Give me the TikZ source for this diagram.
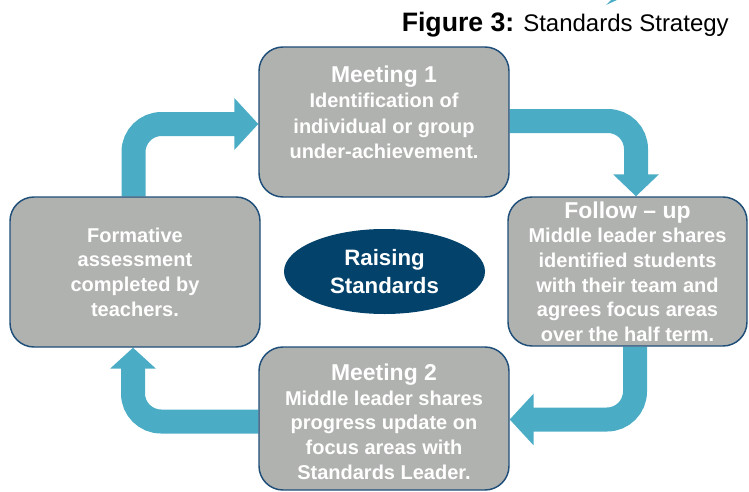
\documentclass[tikz,border=0pt]{standalone}
\usepackage{fontspec}
\setmainfont{Liberation Sans}
\usetikzlibrary{calc,shapes.geometric}
\definecolor{arrowblue}{RGB}{75,172,198}
\definecolor{boxgray}{RGB}{176,178,175}
\definecolor{boxline}{RGB}{31,78,121}
\definecolor{navy}{RGB}{3,66,107}
\pgfdeclarelayer{bg}
\pgfsetlayers{bg,main}
\begin{document}
\begin{tikzpicture}[x=0.75pt,y=-0.75pt,
  box/.style={draw=boxline,line width=1.1pt,fill=boxgray,rounded corners=18pt,inner sep=0pt},
  txt/.style={text=white,font=\bfseries\fontsize{15}{18.5}\selectfont,align=center,inner sep=0pt,anchor=north},
  flow/.style={draw=arrowblue,line width=18pt,rounded corners=21pt},
  head/.style={fill=arrowblue}]
\useasboundingbox (0,0) rectangle (749,492);

% boxes
\node[box,minimum width=187.5pt,minimum height=112.5pt] (L) at (135,272) {};
\node[box,minimum width=187.5pt,minimum height=112.5pt] (T) at (384,122) {};
\node[box,minimum width=179.25pt,minimum height=111.75pt] (R) at (627.5,271.5) {};
\node[box,minimum width=187.5pt,minimum height=107.25pt] (B) at (384,418.5) {};

% texts
\node[txt] (Lt) at ($(L.north)+(0,31)$) {Formative\\assessment\\completed by\\teachers.};
\node[txt,font=\bfseries\fontsize{15}{19}\selectfont] (Tt) at ($(T.north)+(0,19.5)$) {{\fontsize{17.2}{19}\selectfont Meeting 1}\\Identification of\\individual or group\\under-achievement.};
\node[txt] (Rt) at ($(R.north)+(0,5)$) {{\fontsize{17.2}{18.5}\selectfont Follow – up}\\Middle leader shares\\identified students\\with their team and\\agrees focus areas\\over the half term.};
\node[txt] (Bt) at ($(B.north)+(0,17.5)$) {{\fontsize{17.2}{18.5}\selectfont Meeting 2}\\Middle leader shares\\progress update on\\focus areas with\\Standards Leader.};

% centre
\node[ellipse,fill=navy,minimum width=150.75pt,minimum height=63.75pt,inner sep=0pt,text=white,
  font=\bfseries\fontsize{16.7}{20.5}\selectfont,align=center] (E) at (384.5,271.5) {Raising\\Standards};

% title
\node[anchor=base east,inner sep=0pt,font=\fontsize{18}{20}\selectfont] (title) at (729,32) {{\fontsize{20}{22}\selectfont\bfseries Figure 3:} Standards Strategy};

% arrows
\coordinate (tip1) at ($(T.west)+(0,2)$);
\coordinate (tip2) at ($(R.north)+(8.5,0)$);
\coordinate (tip3) at ($(B.east)+(0,1)$);
\coordinate (tip4) at ($(L.south)+(-2,0)$);
\begin{pgfonlayer}{bg}
\draw[flow] ($(L.north)+(-1.5,0)$) |- ($(tip1)+(-22,0)$);
\fill[head] (tip1) -- ($(tip1)+(-24,-26)$) -- ($(tip1)+(-24,26)$) -- cycle;
\draw[flow] ($(T.east)+(0,-1)$) -| ($(tip2)+(0,-20)$);
\fill[head] (tip2) -- ($(tip2)+(-23,-22)$) -- ($(tip2)+(23,-22)$) -- cycle;
\draw[flow] ($(R.south)+(7.5,0)$) |- ($(tip3)+(22,0)$);
\fill[head] (tip3) -- ($(tip3)+(24,-26)$) -- ($(tip3)+(24,26)$) -- cycle;
\draw[flow] ($(B.west)+(0,3)$) -| ($(tip4)+(0,19)$);
\fill[head] (tip4) -- ($(tip4)+(-23,21)$) -- ($(tip4)+(23,21)$) -- cycle;
\end{pgfonlayer}
\fill[arrowblue] (606,5) -- (611,0) -- (617,0) -- cycle;
\end{tikzpicture}
\end{document}
